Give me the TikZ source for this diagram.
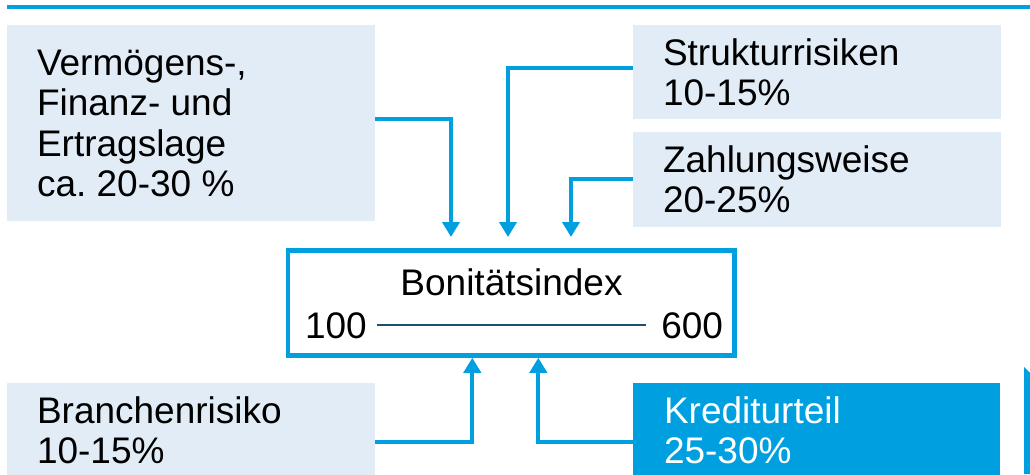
\documentclass[tikz,border=0pt]{standalone}
\usepackage{fontspec}
\setmainfont{Liberation Sans}
\usetikzlibrary{arrows.meta}
\definecolor{cblue}{HTML}{00A0E0}
\definecolor{clight}{HTML}{E2ECF6}
\definecolor{cteal}{HTML}{1B506E}
\frenchspacing
\tikzset{
  panel/.style={rectangle, inner sep=0pt, outer sep=0pt, draw=none, fill=clight, anchor=north west},
  txt/.style={inner sep=0pt, outer sep=0pt, anchor=base west, align=left, font=\fontsize{37}{40.5}\selectfont},
  arr/.style={draw=cblue, line width=3.8pt, -{Triangle[width=17pt,length=15pt]}},
}
\begin{document}
\begin{tikzpicture}[x=1pt,y=-1pt]
\useasboundingbox (0,0) rectangle (1030,474);
% top bar
\fill[cblue] (7,4.7) rectangle (1030,9.3);
% panels
\node[panel, minimum width=368pt, minimum height=196pt] (v) at (7,25) {};
\node[panel, minimum width=368pt, minimum height=94pt] (s) at (633,25) {};
\node[panel, minimum width=368pt, minimum height=95pt] (z) at (633,132) {};
\node[panel, minimum width=368pt, minimum height=97pt] (b) at (7,383) {};
\node[panel, fill=cblue, minimum width=367pt, minimum height=97pt] (k) at (633,383) {};
% texts (anchored at the baseline of the last line)
\node[txt] (vt) at (37,196.5) {Vermögens-,\\Finanz- und\\Ertragslage\\ca. 20-30 \%};
\node[txt] (st) at (663,105.5) {Strukturrisiken\\10-15\%};
\node[txt] (zt) at (663,212.5) {Zahlungsweise\\20-25\%};
\node[txt] (bt) at (37,463.5) {Branchenrisiko\\10-15\%};
\node[txt, text=white] (kt) at (664,463.5) {Krediturteil\\25-30\%};
% central box
\node[rectangle, draw=cblue, line width=4.5pt, fill=white, inner sep=0pt,
      minimum width=446.5pt, minimum height=105pt] (c) at (511.25,303) {};
\node[txt, anchor=base] (bi) at (511.5,295) {Bonitätsindex};
\node[txt] (lo) at (305,338) {100};
\node[txt, anchor=base east] (hi) at (723,338) {600};
\draw[cteal, line width=1.6pt] ([xshift=10pt]lo.east) -- ([xshift=-15pt]hi.west);
% arrow targets
\coordinate (t1) at (451,237);
\coordinate (t2) at (508,237);
\coordinate (t3) at (571,237);
% arrows
\draw[arr] (v.east |- 0,119.3) -| (t1);
\draw[arr] (s.west |- 0,68) -| (t2);
\draw[arr] (z.west |- 0,179) -| (t3);
\draw[arr] (b.east |- 0,441.7) -| (c.south -| 472.3,0);
\draw[arr] (k.west |- 0,441.7) -| (c.south -| 538.3,0);
% partial shape at right edge
\fill[cblue] (1024,367) -- (1030,373) -- (1030,474) -- (1024,474) -- cycle;
\end{tikzpicture}
\end{document}
